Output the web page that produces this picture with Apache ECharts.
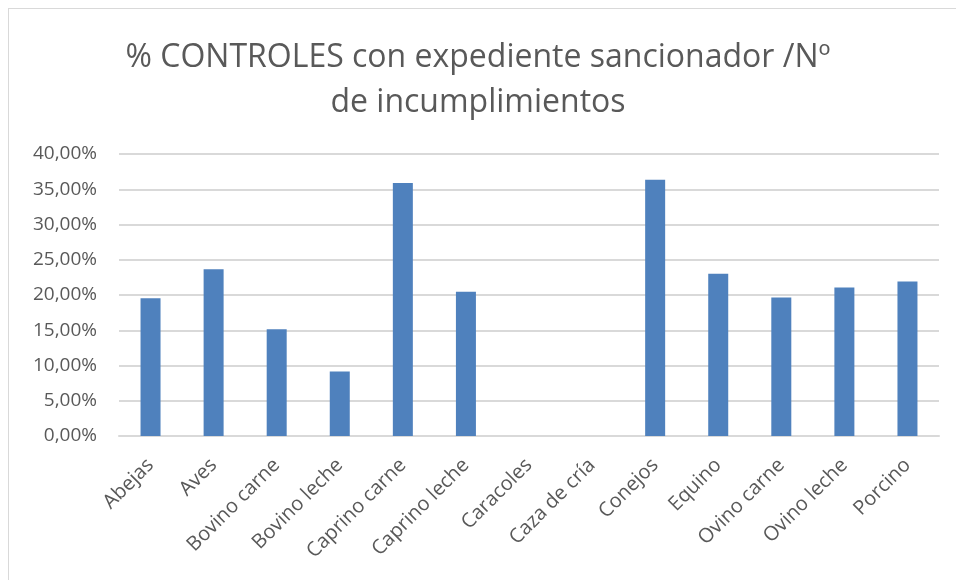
<!DOCTYPE html>
<html>
<head>
<meta charset="utf-8">
<script src="https://cdn.jsdelivr.net/npm/echarts@6/dist/echarts.min.js"></script>
<style>
  html, body { margin: 0; padding: 0; background: #fff; }
  #frame { position: absolute; left: 8px; top: 8px; width: 960px; height: 600px; border: 1px solid #d9d9d9; }
  #chart { position: absolute; left: 0; top: 0; width: 956px; height: 580px; }
</style>
</head>
<body>
<div id="frame"></div>
<div id="chart"></div>
<script>
const categories = ['Abejas', 'Aves', 'Bovino carne', 'Bovino leche', 'Caprino carne', 'Caprino leche',
  'Caracoles', 'Caza de cría', 'Conejos', 'Equino', 'Ovino carne', 'Ovino leche', 'Porcino'];
const porcentajes = [19.55, 23.67, 15.15, 9.14, 35.88, 20.45, 0, 0, 36.36, 23.0, 19.64, 21.07, 21.92];

let myChart = echarts.init(document.getElementById('chart'));
myChart.setOption({
  textStyle: { fontFamily: 'Open Sans' },
  title: {
    text: '% CONTROLES con expediente sancionador /Nº\nde incumplimientos',
    left: 'center',
    top: 30,
    textStyle: { fontSize: 32, fontWeight: 'normal', color: '#595959', lineHeight: 45, fontFamily: 'Open Sans' }
  },
  grid: { left: 119, right: 17, top: 154, bottom: 144 },
  xAxis: {
    type: 'category',
    data: categories,
    axisLine: { lineStyle: { color: '#d9d9d9', width: 2 } },
    axisTick: { show: false },
    axisLabel: { rotate: 45, color: '#595959', fontSize: 20, margin: 26, interval: 0 }
  },
  yAxis: {
    type: 'value',
    min: 0,
    max: 40,
    interval: 5,
    axisLine: { show: false },
    axisTick: { show: false },
    splitLine: { lineStyle: { color: '#d9d9d9', width: 2 } },
    axisLabel: {
      color: '#595959',
      fontSize: 19,
      margin: 22,
      formatter: v => v.toFixed(2).replace('.', ',') + '%'
    }
  },
  series: [{
    type: 'bar',
    data: porcentajes,
    barWidth: 20,
    itemStyle: { color: '#4f81bd' }
  }]
});
</script>
</body>
</html>
